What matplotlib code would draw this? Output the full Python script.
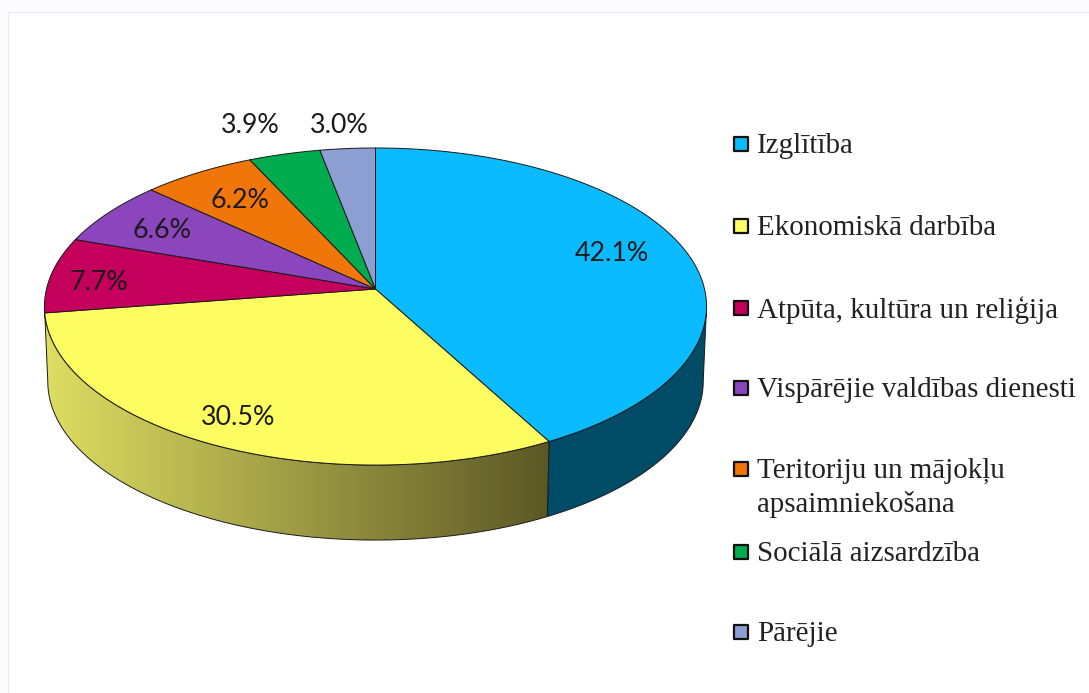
import numpy as np
import matplotlib
matplotlib.use('Agg')
import matplotlib.pyplot as plt
from matplotlib.patches import Polygon, Rectangle

categories = ['Izglītība', 'Ekonomiskā darbība', 'Atpūta, kultūra un reliģija',
              'Vispārējie valdības dienesti', 'Teritoriju un mājokļu\napsaimniekošana',
              'Sociālā aizsardzība', 'Pārējie']
values = [42.1, 30.5, 7.7, 6.6, 6.2, 3.9, 3.0]
colors = ['#0bbbff', '#fdfc60', '#c4005c', '#8b45bd', '#f1760a', '#00ac4d', '#8d9fd2']

# where the labels sit: radius as a fraction of the pie, plus a nudge in pixels
label_r = [0.74, 0.84, 0.85, 0.80, 0.75, 1.26, 1.20]
label_dx = [5, -3, 0, 2, 0, -13, -3]
label_dy = [-8, 0, 6, 3, 1, 2, 2]
legend_y = [144, 226, 308, 388, 469, 552, 632]

# pie geometry in image pixels, k gives the perspective
cx, cy = 375.5, 289
rx, ry, k = 329, 156.6, 0.1105
depth = 75
bottom_scale = 0.99


def top_xy(t, r=1.0):
    x = cx + rx * r * np.sin(t) / (1 + k * r * np.cos(t))
    y = cy - ry * r * np.cos(t) / (1 + k * r * np.cos(t))
    return x, y


def bottom_xy(t):
    x, y = top_xy(t)
    return cx + bottom_scale * (x - cx), y + depth


def side_polygon(t0, t1):
    t = np.linspace(t0, t1, 150)
    xt, yt = top_xy(t)
    xb, yb = bottom_xy(t[::-1])
    return np.column_stack([np.r_[xt, xb], np.r_[yt, yb]])


fig = plt.figure(figsize=(10.89, 6.93), dpi=100, facecolor='#fcfcfe')
ax = fig.add_axes([0, 0, 1, 1])
ax.set_xlim(0, 1089)
ax.set_ylim(693, 0)
ax.axis('off')

ax.add_patch(Rectangle((8, 12), 1200, 800, fc='white', ec='#e9edf6', lw=1.0, zorder=0))

edges = np.r_[0, np.cumsum(values)] / np.sum(values) * 2 * np.pi
silhouette = np.arccos(-k)

# the sides of the pie that face the viewer
blue_side = Polygon(side_polygon(silhouette, edges[1]), fc='#004c66', ec='#1a1a1a', lw=0.7, zorder=2)
ax.add_patch(blue_side)

yellow_pts = side_polygon(edges[1], 2 * np.pi - silhouette)
yellow_side = Polygon(yellow_pts, fc='none', ec='#1a1a1a', lw=0.7, zorder=3)
ax.add_patch(yellow_side)
shade = np.linspace(0, 1, 256)[None, :, None]
light = np.array([222, 222, 98]) / 255
dark = np.array([92, 88, 38]) / 255
grad = ax.imshow(light + (dark - light) * shade, aspect='auto', zorder=2,
                 extent=(yellow_pts[:, 0].min(), yellow_pts[:, 0].max(),
                         yellow_pts[:, 1].max(), yellow_pts[:, 1].min()))
grad.set_clip_path(Polygon(yellow_pts, transform=ax.transData))
ax.set_xlim(0, 1089)
ax.set_ylim(693, 0)

# top face
for i in range(len(values)):
    t = np.linspace(edges[i], edges[i + 1], 200)
    x, y = top_xy(t)
    pts = np.column_stack([np.r_[cx, x], np.r_[cy, y]])
    ax.add_patch(Polygon(pts, fc=colors[i], ec='#1a1a1a', lw=0.7, joinstyle='round', zorder=4))

    mid = (edges[i] + edges[i + 1]) / 2
    lx, ly = top_xy(mid, label_r[i])
    ax.text(lx + label_dx[i], ly + label_dy[i], '%.1f%%' % values[i], family='Lato', fontsize=19.3,
            color='#1a1a1a', ha='center', va='center', zorder=5)

# legend
for i in range(len(categories)):
    ax.scatter([741], [legend_y[i]], marker='s', s=105, fc=colors[i], ec='#111111', lw=1.6, zorder=5)
    for j, line in enumerate(categories[i].split('\n')):
        ax.text(757, legend_y[i] + 2 + 34 * j, line, family='Liberation Serif', fontsize=20.9,
                color='#222222', ha='left', va='center', zorder=5)

fig.savefig('out.png', dpi=100, facecolor=fig.get_facecolor())
